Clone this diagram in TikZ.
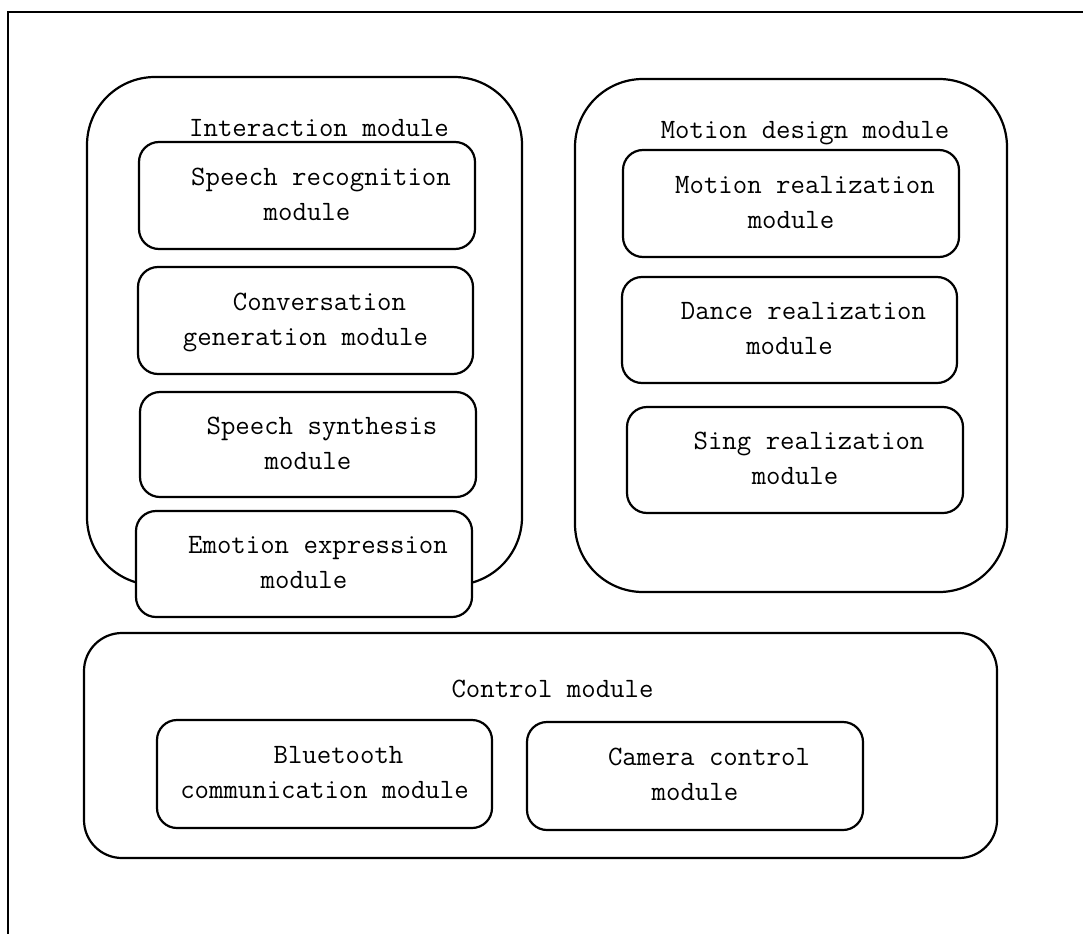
\documentclass[tikz,border=0pt]{standalone}
\usepackage{tikz}

\tikzset{
  every picture/.style={x=1pt, y=-1pt},
  txt/.style={font=\ttfamily\fontsize{28}{35}\selectfont},
  group/.style={draw, line width=2.2pt, rounded corners=68pt, inner sep=0pt},
  unitbox/.style={draw, fill=white, line width=2.2pt, rounded corners=20pt,
    inner sep=0pt, align=center, txt},
  grouptitle/.style={anchor=base, inner sep=0pt, txt},
  frameline/.style={line width=1.3pt}
}

\begin{document}
\begin{tikzpicture}
\useasboundingbox (0,0) rectangle (1083,934);

% page frame (continues past the right and bottom edges)
\coordinate (frameR) at (1083,12);
\coordinate (frameC) at (8,12);
\coordinate (frameB) at (8,934);
\draw[frameline] (frameR) -- (frameC) -- (frameB);

% ---- interaction group ----
\node[group, minimum width=435pt, minimum height=508pt] (interact) at (304.5,331) {};
\node[grouptitle] (interactT) at (319,136) {Interaction module};
\node[unitbox, minimum width=336pt, minimum height=107pt] (speechrec) at (307,195.5)
  {\hspace*{28pt}Speech recognition\strut\\module\strut};
\node[unitbox, minimum width=335pt, minimum height=107pt] (conversation) at (305.5,320.5)
  {\hspace*{28pt}Conversation\strut\\generation module\strut};
\node[unitbox, minimum width=336pt, minimum height=105pt] (synthesis) at (308,444.5)
  {\hspace*{28pt}Speech synthesis\strut\\module\strut};
\node[unitbox, minimum width=336pt, minimum height=106pt] (emotion) at (304,564)
  {\hspace*{28pt}Emotion expression\strut\\module\strut};

% ---- motion design group ----
\node[group, minimum width=432pt, minimum height=513pt] (motion) at (791,335.5) {};
\node[grouptitle] (motionT) at (805,138) {Motion design module};
\node[unitbox, minimum width=336pt, minimum height=107pt] (motionreal) at (791,203.5)
  {\hspace*{28pt}Motion realization\strut\\module\strut};
\node[unitbox, minimum width=335pt, minimum height=106pt] (dance) at (789.5,330)
  {\hspace*{28pt}Dance realization\strut\\module\strut};
\node[unitbox, minimum width=336pt, minimum height=106pt] (sing) at (795,460)
  {\hspace*{28pt}Sing realization\strut\\module\strut};

% ---- control group ----
\node[group, rounded corners=38pt, minimum width=913pt, minimum height=225pt] (control) at (540.5,745.5) {};
\node[grouptitle] (controlT) at (552.5,697) {Control module};
\node[unitbox, minimum width=335pt, minimum height=108pt] (bluetooth) at (324.5,774)
  {\hspace*{28pt}Bluetooth\strut\\communication module\strut};
\node[unitbox, minimum width=336pt, minimum height=108pt] (camera) at (695,776)
  {\hspace*{28pt}Camera control\strut\\module\strut};
\end{tikzpicture}
\end{document}
